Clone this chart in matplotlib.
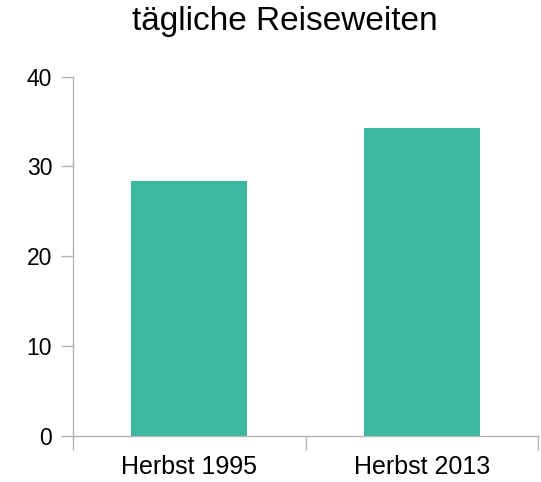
import matplotlib
matplotlib.use("Agg")
import matplotlib.pyplot as plt
import numpy as np

plt.rcParams['font.family'] = ['Liberation Sans', 'DejaVu Sans']

kategorien = ['Herbst 1995', 'Herbst 2013']
werte = [28.4, 34.3]
farbe = '#3ab9a0'
grau = '#b3b3b3'

fig = plt.figure(figsize=(5.41, 4.82), dpi=100)
ax = fig.add_axes([73/541, 46/482, 465/541, 359.5/482])

x = np.arange(len(kategorien))
ax.bar(x, werte, width=0.5, color=farbe)

ax.set_xlim(-0.5, len(kategorien) - 0.5)
ax.set_ylim(0, 40)
ax.set_yticks([0, 10, 20, 30, 40])

# tick marks between categories, labels centred under bars
ax.set_xticks(np.arange(len(kategorien) + 1) - 0.5)
ax.set_xticklabels([])
ax.set_xticks(x, minor=True)
ax.set_xticklabels(kategorien, minor=True)
ax.tick_params(axis='x', which='minor', length=0, labelsize=18, pad=14)
ax.tick_params(axis='x', which='major', length=10, color=grau, width=1)
ax.tick_params(axis='y', length=9, color=grau, width=1, labelsize=16.5, pad=6)

for s in ['top', 'right']:
    ax.spines[s].set_visible(False)
for s in ['left', 'bottom']:
    ax.spines[s].set_color(grau)
    ax.spines[s].set_linewidth(1)

fig.text(285/541, 1 - 6/482, 'tägliche Reiseweiten', fontsize=24,
         ha='center', va='top')

fig.savefig('out.png', dpi=100)
